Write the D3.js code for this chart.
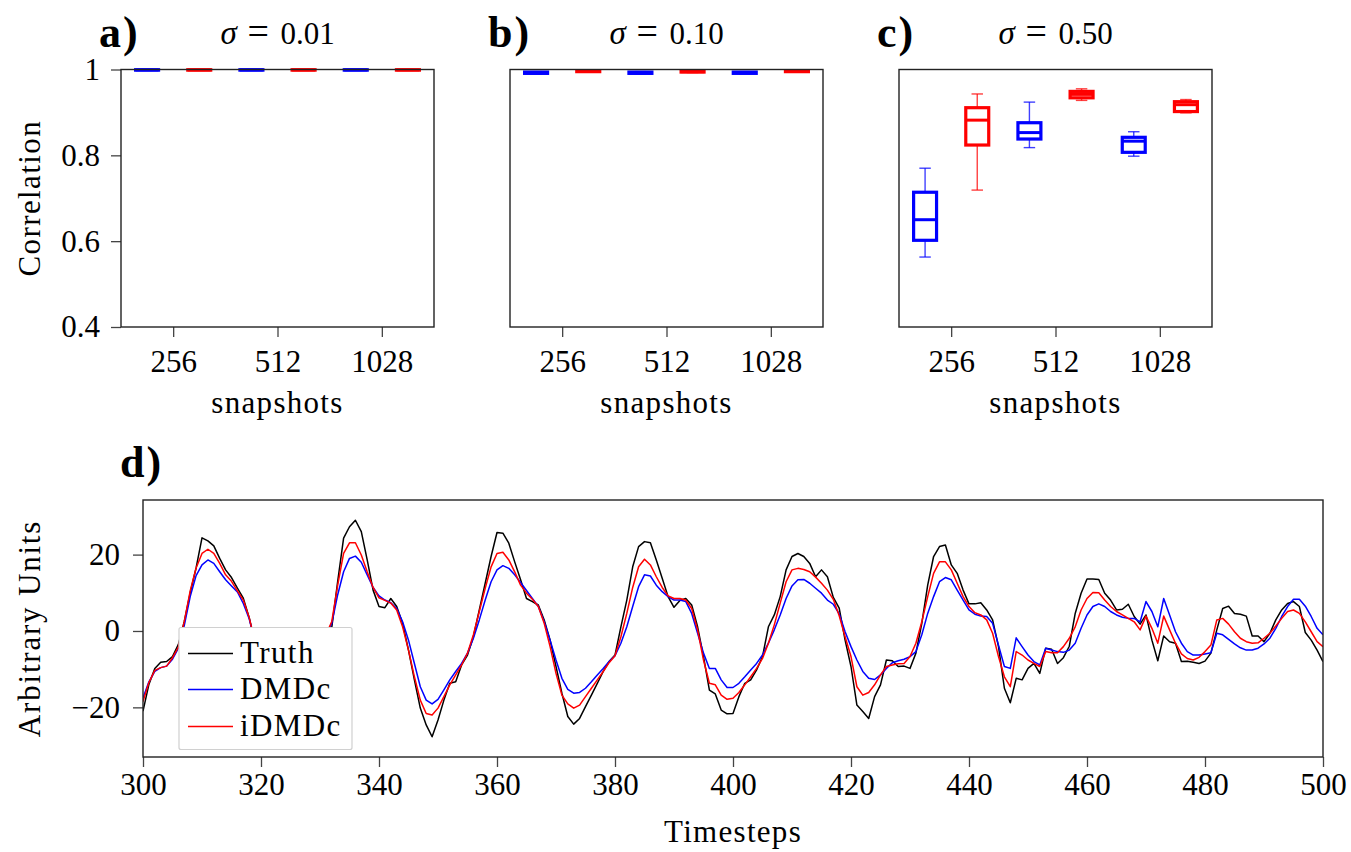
<!DOCTYPE html>
<html><head><meta charset="utf-8">
<script src="https://cdn.jsdelivr.net/npm/d3@7"></script>
<style>
body{margin:0;background:#fff}
svg text{font-family:"Liberation Serif","Times New Roman",serif;fill:#000}
</style>
</head><body>
<svg id="chart" width="1351" height="852"></svg>
<script>
// ---------------- DATA ----------------
const snapshots = ["256", "512", "1028"];
const methods = ["DMDc", "iDMDc"];
const sigmas = ["0.01", "0.10", "0.50"];
const panelLabels = ["a)", "b)", "c)"];
const corrTicks = [0.4, 0.6, 0.8, 1.0];

// box stats per snapshot count: [whisker low, q1, median, q3, whisker high]
const dmdcSigma001 = [[0.998,0.9985,0.999,0.9995,1.0],[0.998,0.9985,0.999,0.9995,1.0],[0.998,0.9985,0.999,0.9995,1.0]];
const idmdcSigma001 = [[0.998,0.9985,0.999,0.9995,1.0],[0.998,0.9985,0.999,0.9995,1.0],[0.998,0.9985,0.999,0.9995,1.0]];
const dmdcSigma010 = [[0.990,0.991,0.992,0.994,0.995],[0.990,0.991,0.992,0.994,0.995],[0.990,0.991,0.993,0.994,0.995]];
const idmdcSigma010 = [[0.994,0.995,0.996,0.997,0.998],[0.993,0.994,0.995,0.996,0.997],[0.994,0.995,0.996,0.997,0.998]];
const dmdcSigma050 = [[0.563,0.602,0.650,0.714,0.770],[0.818,0.838,0.853,0.876,0.924],[0.798,0.807,0.833,0.842,0.855]];
const idmdcSigma050 = [[0.719,0.824,0.882,0.911,0.943],[0.928,0.934,0.942,0.949,0.955],[0.899,0.902,0.918,0.925,0.930]];

const timeStart = 300;
const timeTicks = [300,320,340,360,380,400,420,440,460,480,500];
const unitTicks = [-20, 0, 20];
const seriesNames = ["Truth", "DMDc", "iDMDc"];

const truth = [-21,-14,-9.8,-8.2,-8.0,-6.7,-3.5,2.5,10,16.5,
24.4,23.6,22.3,19.0,16.0,14.0,11.2,8.6,3.5,-3,
-10,-16,-20,-22,-21,-18,-15,-12,-9,-7,
-4,-1,1,13,24.3,27.3,29.0,26.0,18.6,10.7,
6.4,6.1,8.5,6.4,2.0,-5.0,-12.8,-20.2,-24.6,-27.7,
-23.3,-18.1,-13.7,-13.3,-8.9,-6.3,-1.5,5.5,12.5,19.5,
25.8,25.6,23.0,18.1,13.4,8.5,7.7,6.8,2.9,-2.4,
-9.3,-16.3,-22.4,-24.4,-22.9,-19.8,-16.8,-13.7,-10.6,-8.0,
-6.3,1.1,8.1,16.8,22.1,23.4,23.1,18.6,13.8,9.0,
6.2,8.0,8.5,6.8,1.1,-6.7,-15.5,-16.5,-20.7,-21.7,
-21.6,-17.2,-13.7,-12.8,-10.2,-6.7,1.1,4.2,9.0,16.0,
19.5,20.3,19.5,17.7,14.2,16.0,14.2,8.8,6.0,-2.4,
-9.3,-19.4,-21.1,-22.9,-17.2,-14.1,-7.6,-7.8,-9.3,-9.2,
-9.8,-5.8,2.0,12.0,19.5,22.1,22.5,17.3,15.1,10.7,
7.1,7.1,7.4,5.5,2.9,-4.1,-15.0,-18.8,-12.4,-12.8,
-9.8,-8.5,-11.1,-4.5,-4.8,-8.5,-7.0,-4.0,4.6,9.9,
13.6,13.6,13.5,9.9,8.1,5.5,5.7,7.0,3.8,1.8,
4.2,-2.4,-7.8,-1.3,-2.8,-3.2,-8.0,-7.9,-8.2,-8.5,
-7.9,-5.8,0.3,5.9,6.5,4.6,4.4,3.9,-1.3,-1.3,
-2.8,-0.6,2.9,5.5,7.2,7.7,6.4,-0.4,-2.4,-5.0,
-8.0];

const dmdc = [-17.5,-13.3,-10.6,-9.6,-9.2,-7.4,-4.5,1.5,9.0,14.5,
17.3,18.6,17.7,15.5,13.4,11.8,10.2,7.2,3.2,-3,
-9,-13,-16,-17,-16.5,-15,-13,-11,-9,-7,
-4,-1,2,9.5,15.5,19.0,19.6,18.0,14.7,11.4,
9.2,8.1,7.4,5.9,2.4,-2.4,-8.5,-14.6,-18.1,-19.1,
-17.9,-15.4,-12.8,-10.6,-8.5,-5.8,-1.9,2.9,8.1,12.9,
16.0,17.1,16.4,14.7,12.7,10.6,8.5,6.4,2.4,-2.4,
-7.6,-12.4,-15.3,-16.3,-16.1,-15.0,-13.3,-11.5,-9.8,-8.0,
-6.5,-3.2,1.1,6.4,11.6,14.7,14.4,12.0,10.3,9.0,
8.1,8.1,7.7,4.6,-0.6,-5.8,-9.8,-9.8,-12.8,-14.8,
-14.8,-13.7,-12.0,-10.2,-8.5,-6.3,-3.2,0.3,4.2,8.5,
11.8,13.4,13.5,12.5,11.2,9.9,8.1,7.0,4.5,-0.2,
-4.1,-7.6,-10.6,-12.4,-12.7,-11.5,-9.8,-8.3,-7.8,-7.4,
-6.7,-5.4,-1.0,4.6,9.0,12.9,14.0,13.4,10.7,8.1,
5.5,4.4,3.9,3.8,2.0,-3.7,-9.3,-9.8,-1.8,-4.1,
-6.3,-8.0,-8.9,-4.5,-5.0,-5.4,-5.6,-5.0,-3.2,0.7,
4.2,6.4,7.1,6.4,5.1,4.2,3.6,3.3,3.3,2.4,
7.7,5.1,1.1,8.5,4.2,-0.2,-3.2,-5.4,-6.3,-6.3,
-6.0,-5.7,-0.6,-1.0,-2.2,-3.4,-4.4,-5.0,-5.0,-4.5,
-3.4,-1.9,0.7,3.8,6.4,8.3,8.3,6.5,3.8,0.7,
-1.0];

const idmdc = [-18.5,-13.5,-10.3,-9.6,-9.2,-7.0,-4.2,2.5,10.5,16.5,
20.3,21.4,20.3,17.7,14.7,13.0,10.5,8.1,3.5,-3,
-10,-15,-18,-19,-18.5,-16.5,-14,-12,-9.5,-7,
-4,-1,2.5,12,20.3,23.1,23.1,19.9,15.5,11.4,
8.7,8.0,7.3,5.5,1.1,-5.0,-12.0,-18.1,-21.6,-22.0,
-20.2,-17.2,-14.1,-11.5,-8.9,-5.8,-1.0,5.1,11.2,16.8,
20.3,20.6,18.6,15.5,12.0,9.9,8.3,6.4,2.0,-4.1,
-11.1,-16.8,-19.1,-20.2,-19.4,-17.2,-15.0,-12.8,-10.6,-8.3,
-6.5,-1.5,4.6,11.4,16.8,18.8,17.3,14.2,11.4,9.2,
8.5,8.5,8.1,5.9,0.3,-7.6,-13.7,-14.1,-16.8,-17.9,
-17.6,-16.1,-14.1,-12.0,-9.8,-7.2,-3.2,1.6,7.3,12.9,
16.0,16.4,16.1,15.5,14.1,12.5,10.7,8.3,4.0,-1.5,
-6.7,-14.6,-16.8,-16.1,-14.1,-11.5,-9.3,-8.9,-8.6,-8.5,
-6.7,-3.2,2.4,9.0,15.1,18.1,18.1,16.0,12.5,9.0,
6.4,4.8,4.2,2.9,-0.6,-6.7,-12.0,-14.6,-5.4,-6.3,
-7.6,-8.5,-9.3,-5.4,-5.7,-5.7,-4.1,-1.9,1.1,5.5,
8.5,10.1,10.0,8.1,6.4,5.1,4.2,3.3,2.4,0.3,
3.9,0.7,-3.2,3.9,0.3,-3.2,-6.0,-7.2,-7.6,-6.9,
-5.4,-3.7,2.9,3.3,1.8,-0.2,-1.9,-2.8,-3.2,-3.1,
-1.9,-0.6,1.3,3.3,5.1,5.5,4.6,2.4,-0.2,-2.8,
-4.1];

// ---------------- DRAW ----------------
const svg = d3.select("#chart");
const FS = 31;
const methodColors = {"DMDc": "#0000ff", "iDMDc": "#ff0000"};
const spineColor = "#222";

function styleAxis(g) {
  g.select(".domain").remove();
  g.selectAll(".tick line").attr("stroke", "#444").attr("stroke-width", 1.3);
  g.selectAll(".tick text").attr("font-size", FS).attr("font-family", '"Liberation Serif",serif').attr("fill", "#000");
}

const boxData = [
  {dmdc: dmdcSigma001, idmdc: idmdcSigma001},
  {dmdc: dmdcSigma010, idmdc: idmdcSigma010},
  {dmdc: dmdcSigma050, idmdc: idmdcSigma050}
];
const boxLefts = [121, 510, 899];
const boxW = 313, boxTop = 69.5, boxBottom = 327;

boxData.forEach((pd, pi) => {
  const left = boxLefts[pi];
  const x = d3.scaleLinear().domain([0.5, 3.5]).range([left, left + boxW]);
  const y = d3.scaleLinear().domain([0.4, 1.0]).range([boxBottom, boxTop]);
  const g = svg.append("g");

  g.append("g").attr("transform", `translate(0,${boxBottom})`)
    .call(d3.axisBottom(x).tickValues([1,2,3]).tickFormat(d => snapshots[d-1]).tickSize(10).tickPadding(13))
    .call(styleAxis);
  if (pi === 0) {
    g.append("g").attr("transform", `translate(${left},0)`)
      .call(d3.axisLeft(y).tickValues(corrTicks).tickFormat(d => d === 1 ? "1" : d3.format(".1f")(d)).tickSize(10).tickPadding(11))
      .call(styleAxis);
    g.append("text").attr("transform", `translate(40,${(boxTop+boxBottom)/2}) rotate(-90)`)
      .attr("text-anchor", "middle").attr("font-size", FS).attr("letter-spacing", 1.4)
      .text("Correlation");
  }
  methods.forEach((m, mi) => {
    const stats = mi === 0 ? pd.dmdc : pd.idmdc;
    const col = methodColors[m];
    stats.forEach((s, si) => {
      const cx = x(si + 1 + (mi === 0 ? -0.25 : 0.25));
      const hw = x(0.11) - x(0);
      const cw = x(0.055) - x(0);
      const bg = g.append("g");
      bg.append("line").attr("x1", cx).attr("x2", cx).attr("y1", y(s[0])).attr("y2", y(s[1]))
        .attr("stroke", col).attr("stroke-width", 1.4).attr("stroke-opacity", 0.75);
      bg.append("line").attr("x1", cx).attr("x2", cx).attr("y1", y(s[3])).attr("y2", y(s[4]))
        .attr("stroke", col).attr("stroke-width", 1.4).attr("stroke-opacity", 0.75);
      [s[0], s[4]].forEach(v => {
        bg.append("line").attr("x1", cx - cw).attr("x2", cx + cw).attr("y1", y(v)).attr("y2", y(v))
          .attr("stroke", col).attr("stroke-width", 1.4).attr("stroke-opacity", 0.75);
      });
      bg.append("rect").attr("x", cx - hw).attr("y", y(s[3])).attr("width", 2 * hw)
        .attr("height", Math.max(0.01, y(s[1]) - y(s[3])))
        .attr("fill", "none").attr("stroke", col).attr("stroke-width", 3.2);
      bg.append("line").attr("x1", cx - hw).attr("x2", cx + hw).attr("y1", y(s[2])).attr("y2", y(s[2]))
        .attr("stroke", col).attr("stroke-width", 3);
    });
  });
  g.append("rect").attr("x", left).attr("y", boxTop).attr("width", boxW).attr("height", boxBottom - boxTop)
    .attr("fill", "none").attr("stroke", spineColor).attr("stroke-width", 1.4);
  g.append("text").attr("x", left + boxW / 2).attr("y", 413).attr("text-anchor", "middle")
    .attr("font-size", FS).attr("letter-spacing", 1.3).text("snapshots");
  // title: sigma = value
  const cx0 = left + boxW / 2;
  const t = g.append("text").attr("y", 44).attr("font-size", FS);
  t.append("tspan").attr("x", cx0 - 57).attr("font-style", "italic").attr("font-size", 33).text("σ");
  t.append("tspan").attr("x", cx0 - 30).attr("font-size", 38).text("=");
  t.append("tspan").attr("x", cx0 + 3).text(sigmas[pi]);
  g.append("text").attr("x", left - 22).attr("y", 47).attr("font-size", 44).attr("font-weight", "bold")
    .attr("letter-spacing", 2).text(panelLabels[pi]);
});

// ---------------- PANEL D ----------------
const dL = 143, dR = 1323, dT = 500, dB = 757;
const xd = d3.scaleLinear().domain([300, 500]).range([dL, dR]);
const yd = d3.scaleLinear().domain([-33, 34.3]).range([dB, dT]);
const gd = svg.append("g");
gd.append("defs").append("clipPath").attr("id", "clipd").append("rect")
  .attr("x", dL).attr("y", dT).attr("width", dR - dL).attr("height", dB - dT);

gd.append("g").attr("transform", `translate(0,${dB})`)
  .call(d3.axisBottom(xd).tickValues(timeTicks).tickFormat(d3.format("d")).tickSize(10).tickPadding(6))
  .call(styleAxis);
gd.append("g").attr("transform", `translate(${dL},0)`)
  .call(d3.axisLeft(yd).tickValues(unitTicks).tickFormat(d => d < 0 ? "\u2212" + Math.abs(d) : String(d)).tickSize(10).tickPadding(13))
  .call(styleAxis);

const seriesData = [truth, dmdc, idmdc];
const seriesColors = ["#000000", "#0000ff", "#ff0000"];
const line = d3.line().x((d, i) => xd(timeStart + i)).y(d => yd(d));
const lg = gd.append("g").attr("clip-path", "url(#clipd)");
seriesData.forEach((s, i) => {
  lg.append("path").datum(s).attr("d", line).attr("fill", "none")
    .attr("stroke", seriesColors[i]).attr("stroke-width", 1.5).attr("stroke-linejoin", "round");
});
gd.append("rect").attr("x", dL).attr("y", dT).attr("width", dR - dL).attr("height", dB - dT)
  .attr("fill", "none").attr("stroke", spineColor).attr("stroke-width", 1.4);

const leg = gd.append("g");
leg.append("rect").attr("x", 179).attr("y", 627.5).attr("width", 173).attr("height", 122).attr("rx", 2)
  .attr("fill", "#fff").attr("fill-opacity", 1).attr("stroke", "#d0d0d0").attr("stroke-width", 1.2);
const legY = [653.5, 689.5, 726.5];
seriesNames.forEach((n, i) => {
  leg.append("line").attr("x1", 188).attr("x2", 233).attr("y1", legY[i]).attr("y2", legY[i])
    .attr("stroke", seriesColors[i]).attr("stroke-width", 1.5);
  leg.append("text").attr("x", 240).attr("y", legY[i] + 9).attr("font-size", FS).attr("letter-spacing", 1.4)
    .text(n);
});

gd.append("text").attr("x", (dL + dR) / 2).attr("y", 842).attr("text-anchor", "middle")
  .attr("font-size", FS).attr("letter-spacing", 1.3).text("Timesteps");
gd.append("text").attr("transform", `translate(40,${(dT + dB) / 2}) rotate(-90)`)
  .attr("text-anchor", "middle").attr("font-size", FS).attr("letter-spacing", 1.8).text("Arbitrary Units");
gd.append("text").attr("x", 120).attr("y", 477).attr("font-size", 44).attr("font-weight", "bold")
  .attr("letter-spacing", 2).text("d)");
</script>
</body></html>
